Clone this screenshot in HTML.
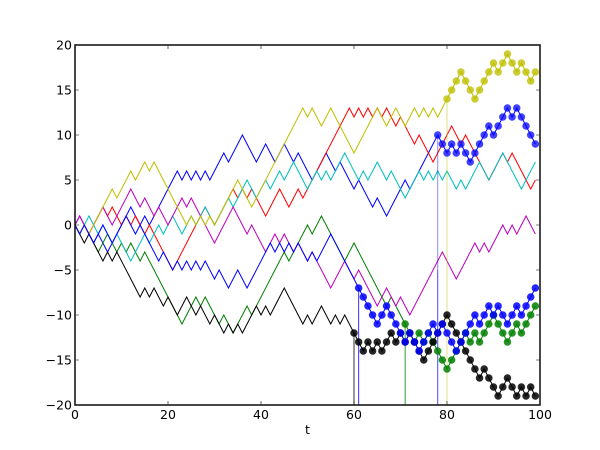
<!DOCTYPE html>
<html><head><meta charset="utf-8"><style>
html,body{margin:0;padding:0;background:#fff;}
svg{display:block;}
text{font-family:"DejaVu Sans","Liberation Sans",sans-serif;font-size:12.5px;fill:#000;}
</style></head><body>
<svg width="600" height="450" viewBox="0 0 600 450" xmlns="http://www.w3.org/2000/svg">
<rect width="600" height="450" fill="#fff"/>
<defs><clipPath id="c"><rect x="75" y="45" width="465" height="360"/></clipPath></defs>
<g clip-path="url(#c)">
<g transform="translate(75,225) scale(4.65,-9)" fill="none" stroke-width="1" stroke-linejoin="miter">
<!-- blue A -->
<polyline vector-effect="non-scaling-stroke" stroke="#0000ff" points="0,0 1,1 4,-2 5,-1 7,-3 12,2 14,0 15,1 16,0 22,6 23,5 24,6 25,5 26,6 27,5 28,6 29,5 32,8 33,7 36,10 39,7 41,9 43,7 45,9 47,7 48,8 51,5 54,8 56,6 57,7 60,4 61,5 64,2 65,3 67,1 71,5 72,4 78,10 79,9 80,8 81,9 82,8 83,9 84,8 85,7 86,8 87,9 88,10 89,11 90,10 91,11 92,12 93,13 94,12 95,13 96,12 97,11 98,10 99,9"/>
<!-- green -->
<polyline vector-effect="non-scaling-stroke" stroke="#008000" points="0,0 1,-1 2,0 3,-1 5,-3 6,-2 7,-1 9,-3 10,-2 11,-3 12,-2 14,-4 15,-3 20,-8 23,-11 26,-8 27,-9 28,-8 31,-11 32,-10 34,-12 37,-9 38,-10 45,-3 46,-4 50,0 51,-1 53,1 58,-4 60,-2 67,-9 68,-8 69,-9 70,-10 71,-11 72,-12 73,-13 74,-12 75,-13 76,-12 77,-13 78,-14 79,-15 80,-16 81,-15 82,-14 83,-13 84,-12 85,-13 86,-12 87,-13 88,-12 89,-11 90,-10 91,-11 92,-12 93,-13 94,-12 95,-11 96,-12 97,-11 98,-10 99,-9"/>
<!-- red -->
<polyline vector-effect="non-scaling-stroke" stroke="#ff0000" points="0,0 1,-1 2,0 3,-1 6,2 7,1 8,2 10,0 11,1 12,0 13,1 15,-1 16,0 21,-5 28,2 30,0 34,4 35,3 36,4 37,3 38,4 41,1 44,4 46,2 48,4 49,3 59,13 60,12 61,13 62,12 63,13 64,12 65,13 66,12 67,13 68,12 69,11 70,12 73,9 74,10 77,7 81,11 83,9 84,10 89,5 92,8 93,7 94,8 98,4 99,5"/>
<!-- cyan -->
<polyline vector-effect="non-scaling-stroke" stroke="#00bfbf" points="0,0 1,-1 2,0 3,1 5,-1 6,0 8,-2 9,-1 12,-4 15,-1 16,-2 18,0 19,-1 20,0 21,1 22,0 23,-1 24,0 25,1 26,0 27,1 28,2 29,1 30,0 33,3 34,2 37,5 38,4 39,3 41,5 42,4 44,6 45,5 47,7 48,6 50,4 52,6 53,5 54,6 55,5 58,8 61,5 62,6 63,5 65,7 67,5 68,6 71,3 73,5 74,6 75,5 76,6 77,5 78,6 79,5 80,6 82,4 83,5 84,4 87,7 89,5 92,8 96,4 99,7"/>
<!-- magenta -->
<polyline vector-effect="non-scaling-stroke" stroke="#bf00bf" points="0,0 1,1 2,0 3,-1 4,0 6,2 8,0 12,4 14,2 15,3 17,1 18,2 19,1 20,0 23,3 24,2 25,3 30,-2 34,2 37,-1 38,0 41,-3 43,-1 44,-2 45,-1 47,-3 48,-2 50,-4 51,-3 55,-7 58,-4 60,-6 61,-5 65,-9 67,-7 69,-9 70,-8 72,-10 79,-3 82,-6 86,-2 87,-3 88,-2 89,-3 92,0 93,-1 94,0 95,-1 97,1 99,-1"/>
<!-- yellow -->
<polyline vector-effect="non-scaling-stroke" stroke="#bfbf00" points="0,0 1,-1 2,0 3,-1 8,4 9,3 12,6 13,5 15,7 16,6 17,7 22,2 23,1 24,0 25,1 26,0 27,1 28,0 29,1 30,0 35,5 38,2 49,13 50,12 51,13 53,11 55,13 60,8 65,13 67,11 69,13 71,11 73,13 74,12 75,13 76,12 77,13 78,12 79,13 80,14 81,15 82,16 83,17 84,16 85,15 86,14 87,15 88,16 89,17 90,18 91,17 92,18 93,19 94,18 95,17 96,18 97,17 98,16 99,17"/>
<!-- black -->
<polyline vector-effect="non-scaling-stroke" stroke="#000000" points="0,0 2,-2 3,-1 6,-4 7,-3 8,-4 9,-3 14,-8 15,-7 16,-8 17,-7 19,-9 20,-8 22,-10 24,-8 26,-10 27,-9 28,-10 29,-11 30,-10 32,-12 33,-11 34,-12 35,-11 36,-12 38,-10 39,-9 40,-10 41,-9 42,-10 45,-7 49,-11 50,-10 51,-11 53,-9 54,-10 55,-11 56,-10 57,-11 58,-10 59,-11 60,-12 61,-13 62,-14 63,-13 64,-14 65,-13 66,-14 67,-13 68,-12 69,-13 70,-12 71,-13 72,-12 73,-13 74,-14 75,-15 76,-14 77,-13 78,-12 79,-11 80,-10 81,-11 82,-12 83,-13 84,-14 85,-15 86,-16 87,-17 88,-16 89,-17 90,-18 91,-19 92,-18 93,-17 94,-18 95,-19 96,-18 97,-19 98,-18 99,-19"/>
<!-- blue B -->
<polyline vector-effect="non-scaling-stroke" stroke="#0000ff" points="0,0 1,-1 2,0 4,-2 6,0 8,-2 10,0 11,1 13,-1 14,0 18,-4 19,-3 21,-5 22,-4 23,-5 24,-4 25,-5 26,-4 27,-5 28,-4 30,-6 31,-5 33,-7 35,-5 37,-7 42,-2 43,-3 44,-2 45,-3 46,-2 47,-3 48,-2 50,-4 51,-3 52,-4 55,-1 61,-7 62,-8 63,-9 64,-10 65,-11 66,-10 67,-9 68,-10 69,-11 70,-12 71,-13 72,-12 73,-13 74,-14 75,-13 76,-12 77,-11 78,-12 79,-11 80,-12 81,-13 82,-14 83,-13 84,-12 85,-11 86,-10 87,-11 88,-10 89,-9 90,-10 91,-9 92,-10 93,-11 94,-10 95,-9 96,-10 97,-9 98,-8 99,-7"/>

<!-- vertical lines -->
<line vector-effect="non-scaling-stroke" x1="60" y1="-20" x2="60" y2="-12" stroke="#000" stroke-opacity="0.8"/>
<line vector-effect="non-scaling-stroke" x1="61" y1="-20" x2="61" y2="-7" stroke="#0000ff" stroke-opacity="0.8"/>
<line vector-effect="non-scaling-stroke" x1="71" y1="-20" x2="71" y2="-11" stroke="#008000" stroke-opacity="0.8"/>
<line vector-effect="non-scaling-stroke" x1="78" y1="-20" x2="78" y2="10" stroke="#0000ff" stroke-opacity="0.45"/>
<line vector-effect="non-scaling-stroke" x1="78" y1="-20" x2="78" y2="-5" stroke="#0000ff" stroke-opacity="0.4"/>
<line vector-effect="non-scaling-stroke" x1="80" y1="-20" x2="80" y2="14" stroke="#bfbf00" stroke-opacity="0.45"/>

<!-- dots -->
<g stroke-linecap="round" stroke-width="7.5">
<path vector-effect="non-scaling-stroke" stroke="#0000ff" stroke-opacity="0.75" d="M78,10h0.001M79,9h0.001M80,8h0.001M81,9h0.001M82,8h0.001M83,9h0.001M84,8h0.001M85,7h0.001M86,8h0.001M87,9h0.001M88,10h0.001M89,11h0.001M90,10h0.001M91,11h0.001M92,12h0.001M93,13h0.001M94,12h0.001M95,13h0.001M96,12h0.001M97,11h0.001M98,10h0.001M99,9h0.001"/>
<path vector-effect="non-scaling-stroke" stroke="#008000" stroke-opacity="0.85" d="M71,-11h0.001M72,-12h0.001M73,-13h0.001M74,-12h0.001M75,-13h0.001M76,-12h0.001M77,-13h0.001M78,-14h0.001M79,-15h0.001M80,-16h0.001M81,-15h0.001M82,-14h0.001M83,-13h0.001M84,-12h0.001M85,-13h0.001M86,-12h0.001M87,-13h0.001M88,-12h0.001M89,-11h0.001M90,-10h0.001M91,-11h0.001M92,-12h0.001M93,-13h0.001M94,-12h0.001M95,-11h0.001M96,-12h0.001M97,-11h0.001M98,-10h0.001M99,-9h0.001"/>
<path vector-effect="non-scaling-stroke" stroke="#bfbf00" stroke-opacity="0.8" d="M80,14h0.001M81,15h0.001M82,16h0.001M83,17h0.001M84,16h0.001M85,15h0.001M86,14h0.001M87,15h0.001M88,16h0.001M89,17h0.001M90,18h0.001M91,17h0.001M92,18h0.001M93,19h0.001M94,18h0.001M95,17h0.001M96,18h0.001M97,17h0.001M98,16h0.001M99,17h0.001"/>
<path vector-effect="non-scaling-stroke" stroke="#000000" stroke-opacity="0.85" d="M60,-12h0.001M61,-13h0.001M62,-14h0.001M63,-13h0.001M64,-14h0.001M65,-13h0.001M66,-14h0.001M67,-13h0.001M68,-12h0.001M69,-13h0.001M70,-12h0.001M71,-13h0.001M72,-12h0.001M73,-13h0.001M74,-14h0.001M75,-15h0.001M76,-14h0.001M77,-13h0.001M78,-12h0.001M79,-11h0.001M80,-10h0.001M81,-11h0.001M82,-12h0.001M83,-13h0.001M84,-14h0.001M85,-15h0.001M86,-16h0.001M87,-17h0.001M88,-16h0.001M89,-17h0.001M90,-18h0.001M91,-19h0.001M92,-18h0.001M93,-17h0.001M94,-18h0.001M95,-19h0.001M96,-18h0.001M97,-19h0.001M98,-18h0.001M99,-19h0.001"/>
<path vector-effect="non-scaling-stroke" stroke="#0000ff" stroke-opacity="0.85" d="M61,-7h0.001M62,-8h0.001M63,-9h0.001M64,-10h0.001M65,-11h0.001M66,-10h0.001M67,-9h0.001M68,-10h0.001M69,-11h0.001M70,-12h0.001M71,-13h0.001M72,-12h0.001M73,-13h0.001M74,-14h0.001M75,-13h0.001M76,-12h0.001M77,-11h0.001M78,-12h0.001M79,-11h0.001M80,-12h0.001M81,-13h0.001M82,-14h0.001M83,-13h0.001M84,-12h0.001M85,-11h0.001M86,-10h0.001M87,-11h0.001M88,-10h0.001M89,-9h0.001M90,-10h0.001M91,-9h0.001M92,-10h0.001M93,-11h0.001M94,-10h0.001M95,-9h0.001M96,-10h0.001M97,-9h0.001M98,-8h0.001M99,-7h0.001"/>
</g>
</g>
</g>

<!-- ticks -->
<g stroke="#000" stroke-width="0.6">
<path d="M75,405v-4M168,405v-4M261,405v-4M354,405v-4M447,405v-4M540,405v-4
M75,45v4M168,45v4M261,45v4M354,45v4M447,45v4M540,45v4
M75,45h4M75,90h4M75,135h4M75,180h4M75,225h4M75,270h4M75,315h4M75,360h4M75,405h4
M540,45h-4M540,90h-4M540,135h-4M540,180h-4M540,225h-4M540,270h-4M540,315h-4M540,360h-4M540,405h-4"/>
</g>
<!-- frame -->
<rect x="75" y="45" width="465" height="360" fill="none" stroke="#1a1a1a" stroke-width="1.6"/>

<!-- x tick labels -->
<g text-anchor="middle">
<text x="75" y="419">0</text>
<text x="168" y="419">20</text>
<text x="261" y="419">40</text>
<text x="354" y="419">60</text>
<text x="447" y="419">80</text>
<text x="540" y="419">100</text>
<text x="307.5" y="434">t</text>
</g>
<!-- y tick labels -->
<g text-anchor="end">
<text x="72" y="49.5">20</text>
<text x="72" y="94.5">15</text>
<text x="72" y="139.5">10</text>
<text x="72" y="184.5">5</text>
<text x="72" y="229.5">0</text>
<text x="72" y="274.5">−5</text>
<text x="72" y="319.5">−10</text>
<text x="72" y="364.5">−15</text>
<text x="72" y="409.5">−20</text>
</g>
</svg>
</body></html>
